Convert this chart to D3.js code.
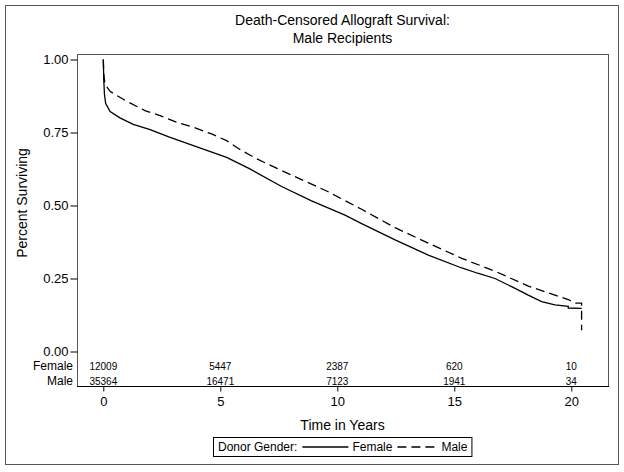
<!DOCTYPE html>
<html>
<head>
<meta charset="utf-8">
<script src="https://cdn.jsdelivr.net/npm/d3@7"></script>
<style>
  html, body { margin: 0; padding: 0; background: #fff; }
  svg { display: block; font-family: "Liberation Sans", Arial, sans-serif; }
</style>
</head>
<body>
<svg id="chart" width="624" height="472"></svg>
<script>
// ---- data ----
const titleLines = ["Death-Censored Allograft Survival:", "Male Recipients"];
const xTicks = [0, 5, 10, 15, 20];
const yTicks = [0, 0.25, 0.5, 0.75, 1.0];
const groups = ["Female", "Male"];
const legendTitle = "Donor Gender:";
const atRiskFemale = [12009, 5447, 2387, 620, 10];
const atRiskMale = [35364, 16471, 7123, 1941, 34];

const femaleTime = [0, 0.02, 0.05, 0.1, 0.29, 0.71, 1.28, 2.0, 2.8, 3.85, 5.27, 6.2, 7.62, 8.9, 10.33, 11.04, 12.47, 13.89, 15.32, 16.0, 16.74, 17.45, 18.16, 18.73, 19.3, 19.87, 19.87, 20.44];
const femaleSurv = [1.0, 0.93, 0.88, 0.85, 0.822, 0.8, 0.778, 0.76, 0.735, 0.705, 0.665, 0.628, 0.565, 0.516, 0.467, 0.438, 0.382, 0.330, 0.286, 0.268, 0.250, 0.222, 0.193, 0.171, 0.160, 0.155, 0.149, 0.148];

const maleTime = [0, 0.02, 0.07, 0.3, 1.0, 1.78, 2.42, 3.2, 3.85, 4.63, 5.27, 5.77, 6.55, 7.4, 8.19, 9.61, 11.04, 12.47, 13.89, 15.32, 16.74, 18.16, 19.3, 19.87, 20.16, 20.44, 20.44];
const maleSurv = [1.0, 0.95, 0.915, 0.89, 0.857, 0.825, 0.808, 0.783, 0.768, 0.745, 0.722, 0.695, 0.66, 0.628, 0.599, 0.547, 0.487, 0.424, 0.371, 0.319, 0.275, 0.224, 0.193, 0.178, 0.166, 0.166, 0.073];

// ---- layout ----
const svg = d3.select("#chart");
const frame = {left: 77, right: 608, top: 54, bottom: 386};
const x = d3.scaleLinear().domain([0, 20]).range([103.3, 571.3]);
const y = d3.scaleLinear().domain([0, 1]).range([351.5, 59.5]);

// outer border
svg.append("rect").attr("x", 5.5).attr("y", 5.5).attr("width", 613).attr("height", 459)
  .attr("fill", "none").attr("stroke", "#555").attr("stroke-width", 1);

// title
svg.append("g").selectAll("text").data(titleLines).join("text")
  .attr("x", (frame.left + frame.right) / 2).attr("y", (d, i) => 25 + i * 18)
  .attr("text-anchor", "middle").attr("font-size", 14).attr("fill", "#000").text(d => d);

// plot frame
svg.append("rect").attr("x", frame.left + 0.5).attr("y", frame.top + 0.5)
  .attr("width", frame.right - frame.left).attr("height", frame.bottom - frame.top)
  .attr("fill", "none").attr("stroke", "#555").attr("stroke-width", 1);

// y axis
const yAxis = d3.axisLeft(y).tickValues(yTicks).tickFormat(d3.format(".2f")).tickSize(7).tickPadding(2);
const gy = svg.append("g").attr("transform", `translate(${frame.left + 0.5},0)`).call(yAxis);
gy.select(".domain").remove();
gy.selectAll("text").attr("font-size", 13).attr("font-family", "Liberation Sans, Arial, sans-serif").attr("fill", "#000");
gy.selectAll("line").attr("stroke", "#000");

// x axis
const xAxis = d3.axisBottom(x).tickValues(xTicks).tickFormat(d3.format("d")).tickSize(5).tickPadding(5);
const gx = svg.append("g").attr("transform", `translate(0,${frame.bottom + 0.5})`).call(xAxis);
gx.select(".domain").remove();
gx.selectAll("text").attr("font-size", 13).attr("font-family", "Liberation Sans, Arial, sans-serif").attr("fill", "#000");
gx.selectAll("line").attr("stroke", "#000");
svg.append("line").attr("x1", frame.left).attr("x2", frame.right + 1)
  .attr("y1", frame.bottom + 0.5).attr("y2", frame.bottom + 0.5).attr("stroke", "#000");

// axis titles
svg.append("text").attr("transform", "translate(27,203) rotate(-90)")
  .attr("text-anchor", "middle").attr("font-size", 14).text("Percent Surviving");
svg.append("text").attr("x", (frame.left + frame.right) / 2).attr("y", 430)
  .attr("text-anchor", "middle").attr("font-size", 14).text("Time in Years");

// at-risk rows
const riskRows = [atRiskFemale, atRiskMale];
riskRows.forEach((row, r) => {
  const yy = 370 + r * 14.5;
  svg.append("text").attr("x", 73).attr("y", yy).attr("text-anchor", "end")
    .attr("font-size", 12).text(groups[r]);
  svg.append("g").selectAll("text").data(row).join("text")
    .attr("x", (d, i) => x(xTicks[i])).attr("y", yy)
    .attr("text-anchor", "middle").attr("font-size", 10).text(d => d);
});

// curves
const line = d3.line().x(d => x(d[0])).y(d => y(d[1])).curve(d3.curveLinear);
const femalePts = femaleTime.map((t, i) => [t, femaleSurv[i]]);
const malePts = maleTime.map((t, i) => [t, maleSurv[i]]);
svg.append("path").datum(femalePts).attr("d", line)
  .attr("fill", "none").attr("stroke", "#000").attr("stroke-width", 1.3);
svg.append("path").datum(malePts).attr("d", line)
  .attr("fill", "none").attr("stroke", "#000").attr("stroke-width", 1.3)
  .attr("stroke-dasharray", "9,5");

// legend (laid out from measured text widths)
const lg = svg.append("g");
const ly0 = 437, ly1 = 456, lyc = (ly0 + ly1) / 2 + 0.5;
let cx = 218;
const addText = (s) => {
  const t = lg.append("text").attr("x", cx).attr("y", lyc + 4.2).attr("font-size", 12).text(s);
  cx += t.node().getComputedTextLength();
};
const addLine = (len, dash) => {
  cx += 5;
  const l = lg.append("line").attr("x1", cx).attr("x2", cx + len).attr("y1", lyc).attr("y2", lyc)
    .attr("stroke", "#000").attr("stroke-width", 1.3);
  if (dash) l.attr("stroke-dasharray", dash);
  cx += len + 4;
};
addText(legendTitle);
addLine(46, null);
addText(groups[0]);
addLine(40, "9,5");
addText(groups[1]);
lg.insert("rect", ":first-child").attr("x", 213.5).attr("y", ly0 + 0.5).attr("width", cx + 4 - 213).attr("height", ly1 - ly0)
  .attr("fill", "#fff").attr("stroke", "#000").attr("stroke-width", 1);
</script>
</body>
</html>
